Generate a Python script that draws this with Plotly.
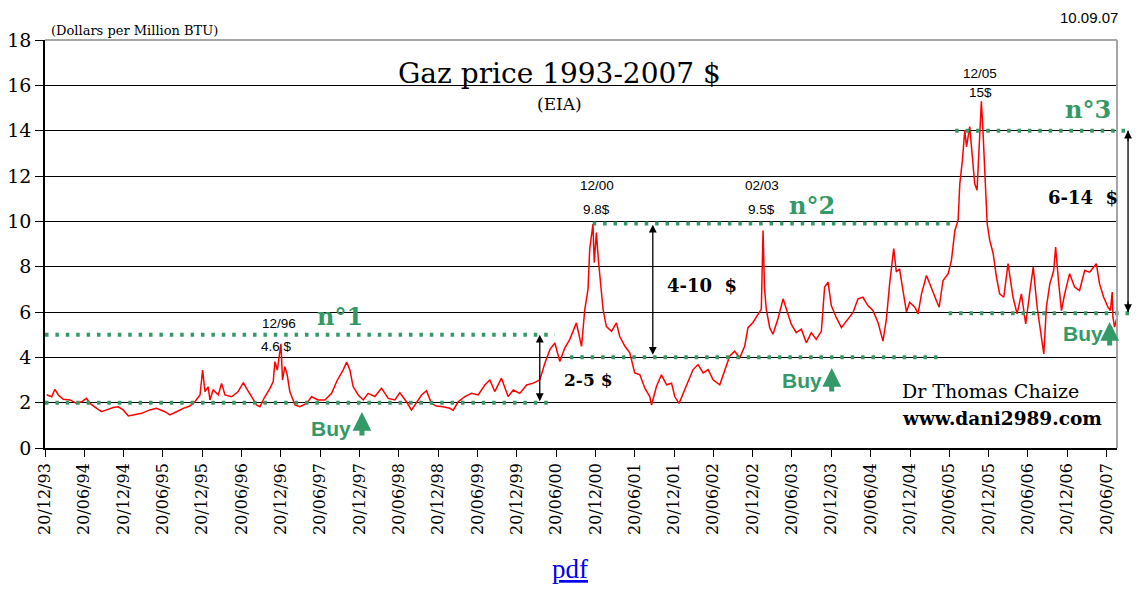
import plotly.graph_objects as go

# ---------------- data ----------------
dates = [
    "1993-12-28", "1994-01-20", "1994-02-04", "1994-02-20", "1994-03-15", "1994-04-15", "1994-05-16",
    "1994-06-08", "1994-07-01", "1994-07-17", "1994-08-17", "1994-09-09", "1994-10-02", "1994-11-02",
    "1994-11-25", "1994-12-18", "1995-01-11", "1995-02-11", "1995-03-14", "1995-04-21", "1995-05-22",
    "1995-06-30", "1995-07-23", "1995-08-23", "1995-09-23", "1995-10-24", "1995-11-16", "1995-12-10",
    "1995-12-22", "1996-01-02", "1996-01-17", "1996-01-25", "1996-02-09", "1996-03-04", "1996-03-19",
    "1996-04-04", "1996-05-05", "1996-06-04", "1996-06-28", "1996-07-13", "1996-08-06", "1996-08-29",
    "1996-09-13", "1996-10-06", "1996-10-30", "1996-11-14", "1996-11-22", "1996-12-03", "1996-12-20",
    "1996-12-27", "1997-01-07", "1997-01-18", "1997-01-30", "1997-02-23", "1997-03-18", "1997-04-18",
    "1997-05-11", "1997-06-11", "1997-07-12", "1997-08-12", "1997-09-08", "1997-10-05", "1997-10-21",
    "1997-11-05", "1997-11-20", "1997-12-14", "1998-01-06", "1998-01-29", "1998-03-01", "1998-04-01",
    "1998-05-02", "1998-06-02", "1998-06-25", "1998-07-26", "1998-08-18", "1998-09-11", "1998-10-04",
    "1998-10-27", "1998-11-19", "1998-12-12", "1999-01-12", "1999-02-12", "1999-02-28", "1999-03-23",
    "1999-04-23", "1999-05-24", "1999-06-24", "1999-07-25", "1999-08-17", "1999-09-09", "1999-10-10",
    "1999-11-10", "1999-12-04", "2000-01-03", "2000-02-04", "2000-03-06", "2000-04-05", "2000-04-29",
    "2000-05-22", "2000-06-14", "2000-07-07", "2000-07-30", "2000-08-22", "2000-09-22", "2000-10-16",
    "2000-10-31", "2000-11-15", "2000-11-23", "2000-12-08", "2000-12-14", "2000-12-24", "2001-01-02",
    "2001-01-12", "2001-01-24", "2001-02-08", "2001-03-04", "2001-03-27", "2001-04-11", "2001-05-05",
    "2001-05-28", "2001-06-20", "2001-07-14", "2001-08-06", "2001-08-29", "2001-09-06", "2001-09-29",
    "2001-10-22", "2001-11-15", "2001-12-08", "2001-12-23", "2002-01-12", "2002-01-31", "2002-02-23",
    "2002-03-18", "2002-04-10", "2002-05-04", "2002-05-27", "2002-06-19", "2002-07-20", "2002-08-12",
    "2002-09-04", "2002-09-27", "2002-10-21", "2002-11-13", "2002-11-28", "2002-12-21", "2003-01-13",
    "2003-01-29", "2003-02-06", "2003-02-13", "2003-02-21", "2003-03-09", "2003-03-24", "2003-04-16",
    "2003-05-10", "2003-05-25", "2003-06-17", "2003-07-10", "2003-08-03", "2003-08-26", "2003-09-18",
    "2003-10-11", "2003-11-04", "2003-11-19", "2003-12-05", "2003-12-20", "2004-01-12", "2004-02-05",
    "2004-02-28", "2004-03-30", "2004-04-22", "2004-05-15", "2004-06-07", "2004-07-01", "2004-07-24",
    "2004-08-16", "2004-09-01", "2004-09-16", "2004-10-05", "2004-10-17", "2004-11-01", "2004-11-17",
    "2004-12-03", "2004-12-18", "2005-01-11", "2005-01-26", "2005-02-11", "2005-03-06", "2005-03-29",
    "2005-04-21", "2005-05-04", "2005-05-22", "2005-06-15", "2005-06-30", "2005-07-16", "2005-07-31",
    "2005-08-08", "2005-08-20", "2005-08-31", "2005-09-08", "2005-09-23", "2005-10-05", "2005-10-16",
    "2005-10-27", "2005-11-05", "2005-11-16", "2005-11-24", "2005-12-03", "2005-12-13", "2005-12-25",
    "2006-01-10", "2006-01-25", "2006-02-09", "2006-02-28", "2006-03-20", "2006-04-12", "2006-05-01",
    "2006-05-21", "2006-06-10", "2006-07-02", "2006-07-15", "2006-08-02", "2006-08-18", "2006-09-02",
    "2006-09-14", "2006-09-30", "2006-10-18", "2006-10-27", "2006-11-09", "2006-11-23", "2006-12-08",
    "2006-12-31", "2007-01-23", "2007-02-15", "2007-03-11", "2007-04-03", "2007-05-04", "2007-05-19",
    "2007-06-07", "2007-06-27", "2007-07-08", "2007-07-17", "2007-07-20", "2007-07-28", "2007-08-08",
]
prices = [
    2.35, 2.26, 2.59, 2.34, 2.15, 2.12, 1.97,
    2.04, 2.19, 1.97, 1.75, 1.60, 1.68, 1.79,
    1.82, 1.68, 1.41, 1.46, 1.53, 1.68, 1.75,
    1.60, 1.46, 1.60, 1.75, 1.85, 2.04, 2.34,
    3.44, 2.49, 2.70, 2.12, 2.56, 2.34, 2.85,
    2.34, 2.26, 2.49, 2.88, 2.63, 2.26, 1.90,
    1.82, 2.26, 2.63, 2.93, 3.81, 3.44, 4.60,
    3.00, 3.59, 3.22, 2.49, 1.90, 1.82, 1.97,
    2.26, 2.12, 2.12, 2.41, 3.00, 3.45, 3.79,
    3.45, 2.71, 2.34, 2.12, 2.41, 2.27, 2.64,
    2.19, 2.12, 2.44, 2.04, 1.67, 2.04, 2.34,
    2.53, 1.97, 1.85, 1.82, 1.75, 1.67, 2.04,
    2.27, 2.41, 2.34, 2.78, 3.00, 2.49, 3.08,
    2.27, 2.56, 2.41, 2.78, 2.86, 3.00, 3.75,
    4.34, 4.63, 3.82, 4.41, 4.78, 5.52, 4.48,
    6.11, 7.00, 8.78, 9.88, 8.18, 9.50, 8.33,
    7.44, 6.11, 5.37, 5.15, 5.52, 4.93, 4.50,
    4.20, 3.31, 3.23, 2.64, 2.27, 1.90, 2.71,
    3.23, 2.79, 2.86, 2.27, 1.97, 2.41, 2.94,
    3.46, 3.68, 3.31, 3.46, 3.01, 2.79, 3.38,
    4.05, 4.27, 3.98, 4.50, 5.31, 5.54, 5.91,
    6.13, 9.60, 7.02, 6.13, 5.31, 5.02, 5.69,
    6.58, 6.13, 5.46, 5.09, 5.24, 4.64, 5.09,
    4.79, 5.16, 7.10, 7.32, 6.28, 5.76, 5.31,
    5.61, 5.98, 6.58, 6.65, 6.28, 6.06, 5.54,
    4.72, 5.69, 7.25, 8.80, 7.77, 7.90, 6.90,
    6.00, 6.43, 6.21, 5.92, 6.80, 7.61, 7.10,
    6.51, 6.21, 7.39, 7.69, 8.28, 9.60, 10.05,
    11.67, 12.70, 14.03, 13.29, 14.18, 13.00, 11.67,
    11.37, 13.29, 15.30, 13.88, 11.96, 9.90, 9.16,
    8.57, 7.54, 6.80, 6.65, 8.13, 6.65, 5.92,
    6.80, 5.47, 7.10, 7.98, 6.21, 5.03, 4.15,
    6.21, 7.24, 7.83, 8.87, 7.39, 6.06, 6.80,
    7.69, 7.10, 6.95, 7.83, 7.76, 8.13, 7.24,
    6.65, 6.21, 6.06, 6.88, 5.77, 5.33, 5.77,
]

tick_labels = [
    "20/12/93", "20/06/94", "20/12/94", "20/06/95", "20/12/95", "20/06/96", "20/12/96",
    "20/06/97", "20/12/97", "20/06/98", "20/12/98", "20/06/99", "20/12/99", "20/06/00",
    "20/12/00", "20/06/01", "20/12/01", "20/06/02", "20/12/02", "20/06/03", "20/12/03",
    "20/06/04", "20/12/04", "20/06/05", "20/12/05", "20/06/06", "20/12/06", "20/06/07",
]
y_ticks = [0, 2, 4, 6, 8, 10, 12, 14, 16, 18]


def lab2date(s):
    d, m, y = s.split("/")
    yy = int(y)
    yy = 1900 + yy if yy > 50 else 2000 + yy
    return f"{yy}-{m}-{d}"


tick_dates = [lab2date(s) for s in tick_labels]

GREEN = "#339966"
SERIF = "DejaVu Serif"
SANS = "Liberation Sans"

fig = go.Figure()
fig.add_trace(go.Scatter(
    x=dates, y=prices, mode="lines",
    line=dict(color="#FF0000", width=1.5),
    hoverinfo="skip", showlegend=False,
))

shapes = []
dot = dict(color=GREEN, width=4, dash="3.5px,6.9px")
# dotted green support / resistance levels (data coords)
for x0, x1, yv in [("1993-12-20", "2000-06-14", 5.0),
                   ("1993-12-20", "2000-05-31", 2.0),
                   ("2000-08-23", "2005-04-27", 4.0),
                   ("2000-12-07", "2005-07-24", 9.9)]:
    shapes.append(dict(type="line", xref="x", yref="y", x0=x0, x1=x1, y0=yv, y1=yv,
                       line=dot, layer="above"))
# levels running beyond the right border (paper x)
for x0, x1, yv in [(0.849, 1.017, 14.0), (0.843, 1.013, 5.95)]:
    shapes.append(dict(type="line", xref="paper", yref="y", x0=x0, x1=x1, y0=yv, y1=yv,
                       line=dot, layer="above"))
# grey top / right border
shapes.append(dict(type="line", xref="paper", yref="paper", x0=0, x1=1, y0=1, y1=1,
                   line=dict(color="#A6A6A6", width=2), layer="above"))
shapes.append(dict(type="line", xref="paper", yref="paper", x0=1, x1=1, y0=0, y1=1,
                   line=dict(color="#A6A6A6", width=2), layer="above"))
# shaft of the 6-14 $ range arrow (outside the plot, right)
shapes.append(dict(type="line", xref="paper", yref="y", x0=1.0103, x1=1.0103, y0=6.0, y1=14.0,
                   line=dict(color="black", width=1.3), layer="above"))

ann = []


def txt(text, x, y, size, family=SERIF, color="black", xref="x", yref="y",
        xanchor="center", yanchor="middle", bold=False):
    if bold:
        text = "<b>" + text + "</b>"
    ann.append(dict(text=text, x=x, y=y, xref=xref, yref=yref, showarrow=False,
                    xanchor=xanchor, yanchor=yanchor,
                    font=dict(family=family, size=size, color=color)))


txt("(Dollars per Million BTU)", 0.004, 18.0, 13, xref="paper", xanchor="left", yanchor="bottom")
txt("Gaz price 1993-2007 $", 0.48, 16.54, 28, xref="paper")
txt("(EIA)", 0.48, 15.17, 17, xref="paper")
txt("10.09.07", 1.003, 1.056, 15, family=SANS, xref="paper", yref="paper", xanchor="right")

txt("12/96", "1996-12-10", 5.51, 13.5, family=SANS)
txt("4.6 $", "1996-12-01", 4.50, 13.5, family=SANS)
txt("12/00", "2000-12-26", 11.56, 13.5, family=SANS)
txt("9.8$", "2000-12-26", 10.54, 13.5, family=SANS)
txt("02/03", "2003-01-31", 11.56, 13.5, family=SANS)
txt("9.5$", "2003-01-31", 10.54, 13.5, family=SANS)
txt("12/05", "2005-11-08", 16.54, 13.5, family=SANS)
txt("15$", "2005-11-10", 15.70, 13.5, family=SANS)

txt("n°1", "1997-09-20", 5.82, 24, color=GREEN, bold=True)
txt("n°2", "2003-09-20", 10.72, 24, color=GREEN, bold=True)
txt("n°3", "2007-03-25", 14.95, 24, color=GREEN, bold=True)

txt("2-5 $", "2000-11-14", 3.0, 17, bold=True)
txt("4-10  $", "2002-04-27", 7.19, 18, bold=True)
txt("6-14  $", "2007-03-01", 11.07, 18, bold=True)

txt("Dr Thomas Chaize", "2004-11-02", 2.51, 19, xanchor="left")
txt("www.dani2989.com", "2004-11-02", 1.28, 18.5, xanchor="left", bold=True)

# Buy signals
for xt, yt, xa, ya in [("1997-08-09", 0.88, "1997-12-31", 1.59),
                       ("2003-08-05", 2.96, "2003-12-22", 3.53),
                       ("2007-03-01", 5.03, "2007-07-05", 5.56)]:
    txt("Buy", xt, yt, 21, family=SANS, color=GREEN, bold=True)
    ann.append(dict(text="", x=xa, y=ya, xref="x", yref="y", ax=0, ay=25,
                    showarrow=True, arrowhead=2, arrowsize=0.75, arrowwidth=5,
                    arrowcolor=GREEN, standoff=0))

# black range arrows
for xv, ytop, ybot in [("2000-04-05", 5.0, 2.0), ("2001-09-12", 9.85, 4.05)]:
    ann.append(dict(text="", x=xv, y=ytop, xref="x", yref="y", ax=xv, ay=ybot,
                    axref="x", ayref="y", showarrow=True, arrowhead=2, arrowside="end+start",
                    arrowsize=1.2, arrowwidth=1.3, arrowcolor="black", standoff=0, startstandoff=0))
# heads of the 6-14 $ arrow
for yv, off in [(14.0, 12), (6.0, -12)]:
    ann.append(dict(text="", x=1.0103, y=yv, xref="paper", yref="y", ax=0, ay=off,
                    showarrow=True, arrowhead=2, arrowsize=1.2, arrowwidth=1.3,
                    arrowcolor="black", standoff=0))

ann.append(dict(text="<u>pdf</u>", x=0.49, y=-0.338, xref="paper", yref="paper", showarrow=False,
                font=dict(family="Liberation Serif", size=27, color="#0000EE")))

fig.update_layout(
    template="none",
    width=1124, height=580,
    margin=dict(l=37, r=15, t=32, b=140, autoexpand=False),
    paper_bgcolor="white", plot_bgcolor="white",
    showlegend=False,
    shapes=shapes, annotations=ann,
    xaxis=dict(type="date", range=["1993-12-20", "2007-08-08"],
               tickmode="array", tickvals=tick_dates, ticktext=tick_labels,
               tickangle=-90, ticks="outside", ticklen=7, tickwidth=1.3, tickcolor="black",
               showline=True, linecolor="black", linewidth=1.5, showgrid=False, zeroline=False,
               tickfont=dict(family=SERIF, size=16, color="black"), automargin=False),
    yaxis=dict(range=[0, 18], tickmode="array", tickvals=y_ticks,
               ticks="outside", ticklen=8, tickwidth=1.3, tickcolor="black",
               showline=True, linecolor="black", linewidth=1.5,
               showgrid=True, gridcolor="black", gridwidth=1, zeroline=False,
               tickfont=dict(family=SERIF, size=19, color="black"), automargin=False),
)

fig.write_html("out.html")
